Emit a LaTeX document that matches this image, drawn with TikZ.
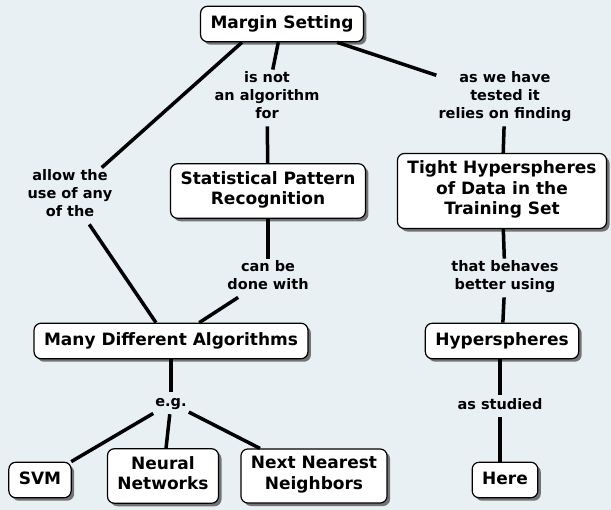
\documentclass[tikz,border=0pt]{standalone}
\usepackage{fontspec}
\setmainfont{DejaVu Sans}
\usepackage{tikz}
\usetikzlibrary{shadows}
\definecolor{bgcol}{RGB}{233,240,244}

\begin{document}
\begin{tikzpicture}[
		node distance=150pt,
		concept/.style={rectangle, rounded corners=7pt, draw, line width=1.2pt,
			fill=white, align=center, inner xsep=10pt, inner ysep=7.5pt,
			font=\bfseries\fontsize{17}{20.5}\selectfont,
			execute at begin node=\strut, execute at end node=\strut,
			drop shadow={shadow xshift=3pt, shadow yshift=-3pt, fill=black!55, opacity=1}},
		link/.style={align=center, inner sep=2pt,
			font=\bfseries\fontsize{14.5}{18}\selectfont,
			execute at begin node=\strut, execute at end node=\strut},
		conn/.style={line width=3.5pt}
		]

		\path[use as bounding box, fill=bgcol] (-282pt,24pt) rectangle (329pt,-486pt);

		\node[concept](S0){Margin Setting};
		\node[concept, below of = S0, xshift = -14pt, yshift = -17pt](S1){Statistical Pattern\\Recognition};
		\node[concept, right of = S1, xshift = 84pt](S2){Tight Hyperspheres\\of Data in the\\Training Set};
		\node[concept, below of = S1, xshift = -97pt](S3){Many Different Algorithms};
		\node[concept, below of = S2](S4){Hyperspheres};
		\node[concept, below of = S3, xshift = -131pt, yshift = 11pt](S5){SVM};
		\node[concept, below of = S3, xshift = -8pt, yshift = 15pt](S6){Neural\\Networks};
		\node[concept, below of = S3, xshift = 143pt, yshift = 15pt](S7){Next Nearest\\Neighbors};
		\node[concept, below of = S4, xshift = 3pt, yshift = 11pt](S8){Here};

		\node[link, below of = S0, xshift = -15pt, yshift = 76pt](L1){is not\\an algorithm\\for};
		\node[link, below of = S0, xshift = 223pt, yshift = 76pt](L2){as we have\\tested it\\relies on finding};
		\node[link, below of = S0, xshift = -212pt, yshift = -22pt](L3){allow the\\use of any\\of the};
		\node[link, below of = S1, yshift = 63pt](L4){can be\\done with};
		\node[link, below of = S2, xshift = 3pt, yshift = 63pt](L5){that behaves\\better using};
		\node[link, below of = S3, yshift = 88pt](L6){e.g.};
		\node[link, below of = S4, xshift = -2pt, yshift = 85pt](L7){as studied};

		\draw[conn] ([xshift=-40pt]S0.south) -- (L3);
		\draw[conn] (L3) -- ([xshift=-15pt]S3.north);
		\draw[conn] (S0) -- (L1);
		\draw[conn] (L1) -- (S1);
		\draw[conn] (S0) -- (L2);
		\draw[conn] (L2) -- (S2);
		\draw[conn] (S1) -- (L4);
		\draw[conn] (L4) -- (S3);
		\draw[conn] (S2) -- (L5);
		\draw[conn] (L5) -- (S4);
		\draw[conn] (S3.south -| L6) -- (L6);
		\draw[conn] (L6) -- (S5);
		\draw[conn] (L6) -- (S6);
		\draw[conn] (L6) -- (S7);
		\draw[conn] (S4.south -| L7) -- (L7);
		\draw[conn] (L7) -- (L7 |- S8.north);
	\end{tikzpicture}
\end{document}
